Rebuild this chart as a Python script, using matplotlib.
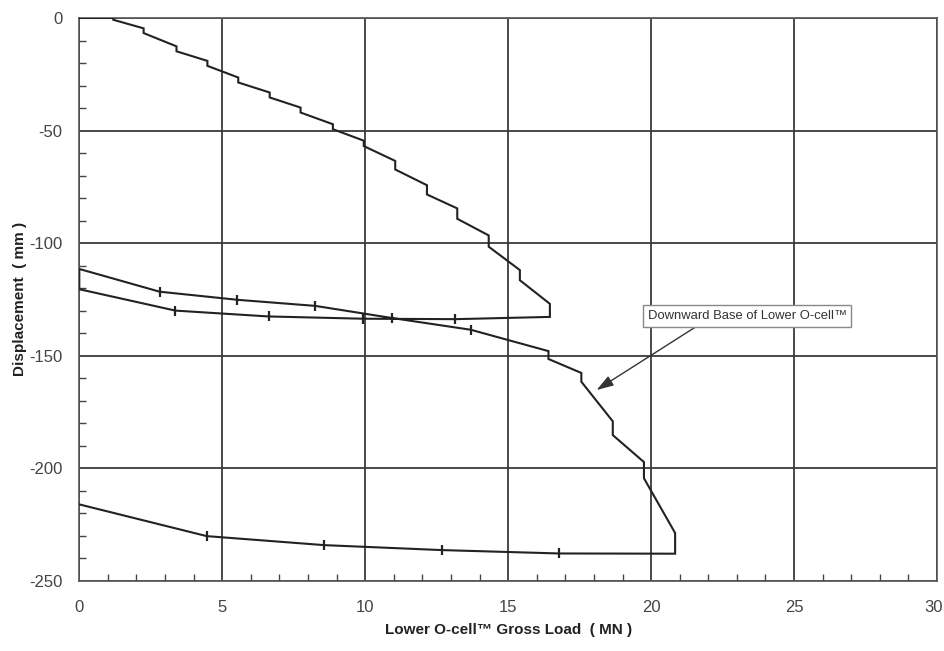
import matplotlib
matplotlib.use('Agg')
import matplotlib.pyplot as plt
from matplotlib import font_manager
from matplotlib.ticker import MultipleLocator
import matplotlib.transforms as mtransforms

plt.rcParams['axes.unicode_minus'] = False
names = {f.name for f in font_manager.fontManager.ttflist}
NARROW = 'Liberation Sans Narrow' if 'Liberation Sans Narrow' in names else 'Liberation Sans'

# ---- data (load in MN, displacement in mm) ----
# first loading: hold steps (load, displacement at start of hold, at end of hold)
load1 = [0.0, 1.19, 2.25, 3.40, 4.48, 5.56, 6.66, 7.74, 8.87, 9.95, 11.05, 12.16, 13.22, 14.32, 15.41, 16.46]
disp1_start = [0.0, 0.0, -4.6, -12.6, -19.05, -26.45, -33.1, -39.8, -47.2, -54.5, -63.5, -74.3, -84.6, -96.6, -112.0, -127.0]
disp1_end = [0.0, -0.8, -6.7, -14.8, -21.25, -28.65, -35.3, -42.0, -49.4, -56.9, -67.3, -78.4, -89.2, -101.6, -116.5, -132.8]

# first unloading
unload1_load = [13.15, 9.91, 6.62, 3.36, 0.0]
unload1_disp = [-133.8, -133.6, -132.6, -130.0, -120.5]

# reloading
reload_load = [0.0, 2.81, 5.53, 8.25, 10.94, 13.69, 16.41, 17.56, 18.66, 19.75, 20.84]
reload_start = [-111.5, -121.6, -125.2, -127.9, -133.3, -138.5, -148.0, -157.7, -179.2, -197.3, -228.8]
reload_end = [-111.5, -121.6, -125.2, -127.9, -133.3, -138.5, -151.5, -161.6, -185.3, -204.5, -238.0]

# final unloading
unload2_load = [16.78, 12.68, 8.57, 4.46, 0.0]
unload2_disp = [-237.9, -236.4, -234.2, -230.2, -216.1]

x_ticks = [0, 5, 10, 15, 20, 25, 30]
y_ticks = [0, -50, -100, -150, -200, -250]

# ---- build path ----
px, py = [], []
for L, s, e in zip(load1, disp1_start, disp1_end):
    px += [L, L]; py += [s, e]
for L, d in zip(unload1_load, unload1_disp):
    px.append(L); py.append(d)
for L, s, e in zip(reload_load, reload_start, reload_end):
    px += [L, L]; py += [s, e]
for L, d in zip(unload2_load, unload2_disp):
    px.append(L); py.append(d)

mk_x = unload1_load[:-1] + [L for L, s, e in zip(reload_load, reload_start, reload_end) if s == e and L > 0] + unload2_load[:-1]
mk_y = unload1_disp[:-1] + [s for L, s, e in zip(reload_load, reload_start, reload_end) if s == e and L > 0] + unload2_disp[:-1]

fig = plt.figure(figsize=(9.45, 6.51), dpi=100)
ax = fig.add_axes([79.3 / 945, 1 - 580.7 / 651, (937 - 79.3) / 945, (580.7 - 18) / 651])

ax.plot(px, py, color='#222222', lw=1.5, solid_joinstyle='miter', zorder=3)
ax.plot(mk_x, mk_y, ls='none', marker='|', ms=7, mew=1.6, color='#222222', zorder=3)

ax.set_xlim(0, 30)
ax.set_ylim(-250, 0)
ax.set_xticks(x_ticks)
ax.set_yticks(y_ticks)
ax.xaxis.set_minor_locator(MultipleLocator(1))
ax.yaxis.set_minor_locator(MultipleLocator(10))
ax.grid(True, which='major', color='#3a3a3a', lw=1.3)
ax.set_axisbelow(True)
ax.tick_params(which='major', length=0, pad=14, labelsize=12, labelcolor='#444444')
ax.tick_params(axis='y', which='major', pad=12)
ax.tick_params(which='minor', direction='in', length=5, width=1, color='#444444')
for lab in ax.get_xticklabels() + ax.get_yticklabels():
    lab.set_family(NARROW)
last = ax.get_xticklabels()[-1]
last.set_transform(last.get_transform() + mtransforms.ScaledTranslation(-3 / 100, 0, fig.dpi_scale_trans))
for sp in ax.spines.values():
    sp.set_color('#555555')
    sp.set_linewidth(1.2)

ax.set_xlabel('Lower O-cell™ Gross Load  ( MN )', family=NARROW, fontsize=11, fontweight='bold', color='#222222')
ax.xaxis.set_label_coords(0.5, -0.075)
ax.set_ylabel('Displacement  ( mm )', family=NARROW, fontsize=11, fontweight='bold', color='#222222')
ax.yaxis.set_label_coords(-0.061, 0.5)

ax.annotate('Downward Base of Lower O-cell™', xy=(18.09, -165.3), xytext=(23.36, -132.4),
            ha='center', va='center', fontsize=9.4, family=NARROW, color='#333333',
            bbox=dict(boxstyle='square,pad=0.35', fc='white', ec='#888888', lw=1),
            arrowprops=dict(arrowstyle='-|>,head_length=1.1,head_width=0.35', color='#333333', lw=1,
                            relpos=(0.28, 0), shrinkA=0, shrinkB=0),
            zorder=5)

fig.savefig('out.png', dpi=100)
